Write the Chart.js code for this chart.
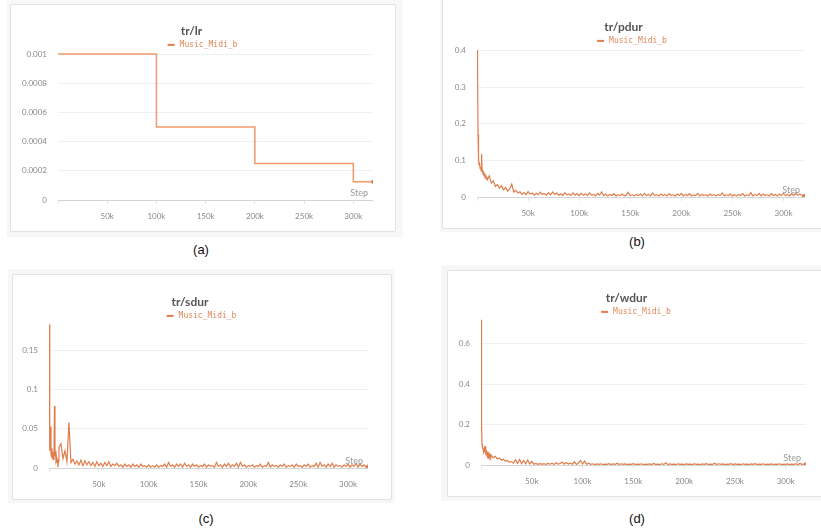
<!DOCTYPE html>
<html>
<head>
<meta charset="utf-8">
<script src="https://cdn.jsdelivr.net/npm/chart.js@4.4.1/dist/chart.umd.min.js"></script>
<style>
  html, body { margin: 0; padding: 0; background: #fff; overflow: hidden; }
  body { width: 821px; height: 531px; position: relative; }
  .bg { position: absolute; background: #f7f7f7; }
  .box { position: absolute; background: #fff; border: 1px solid #e2e2e2; border-radius: 2px; box-sizing: border-box; }
  .wrap { position: absolute; }
  .cap { position: absolute; transform: translate(-50%, -50%); font: 13px "Liberation Sans", Arial, sans-serif; color: #111; }
</style>
</head>
<body>
<div class="bg" style="left:7px;top:0;width:396px;height:237px"></div>
<div class="box" style="left:10px;top:4px;width:386px;height:228px"></div>
<div class="wrap" style="left:10px;top:4px;width:385px;height:227px"><canvas id="chartLr"></canvas></div>
<div class="cap" style="left:201px;top:249px">(a)</div>

<div class="bg" style="left:440px;top:0;width:381px;height:232px"></div>
<div class="box" style="left:442px;top:-1px;width:382px;height:230px"></div>
<div class="wrap" style="left:442px;top:0;width:380px;height:228px"><canvas id="chartPdur"></canvas></div>
<div class="cap" style="left:637px;top:241px">(b)</div>

<div class="bg" style="left:8px;top:269px;width:387px;height:234px"></div>
<div class="box" style="left:12px;top:274px;width:380px;height:226px"></div>
<div class="wrap" style="left:12px;top:274px;width:379px;height:225px"><canvas id="chartSdur"></canvas></div>
<div class="cap" style="left:206px;top:518px">(c)</div>

<div class="bg" style="left:441px;top:265px;width:380px;height:236px"></div>
<div class="box" style="left:447px;top:270px;width:379px;height:227px"></div>
<div class="wrap" style="left:447px;top:270px;width:378px;height:226px"><canvas id="chartWdur"></canvas></div>
<div class="cap" style="left:637px;top:518px">(d)</div>

<script>
// Training steps (in thousands)
const lrSteps = [0, 100, 200, 300, 320];
const lrValues = [0.001, 0.0005, 0.00025, 0.000125, 0.000125];

const noiseSteps = [0, 0.5, 1, 1.5, 2, 2.5, 3, 3.5, 4, 4.5, 5, 5.5, 6, 6.5, 7, 7.5, 8, 8.5, 9, 9.5, 10,
  12, 14, 16, 18, 20, 22, 24, 26, 28, 30, 32, 34, 36, 38, 40,
  42, 44, 46, 48, 50, 52, 54, 56, 58, 60, 62, 64, 66, 68, 70, 72, 74, 76, 78, 80,
  82, 84, 86, 88, 90, 92, 94, 96, 98, 100, 102, 104, 106, 108, 110, 112, 114, 116, 118, 120,
  122, 124, 126, 128, 130, 132, 134, 136, 138, 140, 142, 144, 146, 148, 150, 152, 154, 156, 158, 160,
  162, 164, 166, 168, 170, 172, 174, 176, 178, 180, 182, 184, 186, 188, 190, 192, 194, 196, 198, 200,
  202, 204, 206, 208, 210, 212, 214, 216, 218, 220, 222, 224, 226, 228, 230, 232, 234, 236, 238, 240,
  242, 244, 246, 248, 250, 252, 254, 256, 258, 260, 262, 264, 266, 268, 270, 272, 274, 276, 278, 280,
  282, 284, 286, 288, 290, 292, 294, 296, 298, 300, 302, 304, 306, 308, 310, 312, 314, 316, 318, 320];

const pdurValues = [0.402, 0.368, 0.172, 0.105, 0.088, 0.095, 0.078, 0.082, 0.072, 0.118, 0.069, 0.075, 0.062, 0.07, 0.058, 0.064, 0.052, 0.061, 0.05, 0.055, 0.047,
  0.058, 0.038, 0.044, 0.029, 0.034, 0.024, 0.031, 0.02, 0.026, 0.016, 0.022, 0.035, 0.013, 0.018, 0.011,
  0.014, 0.007, 0.012, 0.006, 0.015, 0.008, 0.011, 0.005, 0.01, 0.006, 0.013, 0.007, 0.009, 0.005, 0.012, 0.006, 0.014, 0.007, 0.011, 0.005,
  0.009, 0.004, 0.012, 0.006, 0.008, 0.004, 0.011, 0.005, 0.009, 0.004, 0.01, 0.005, 0.008, 0.004, 0.011, 0.005, 0.007, 0.003, 0.01, 0.005,
  0.014, 0.004, 0.008, 0.003, 0.007, 0.004, 0.009, 0.003, 0.006, 0.004, 0.008, 0.003, 0.005, 0.013, 0.004, 0.006, 0.003, 0.007, 0.004, 0.008,
  0.003, 0.01, 0.004, 0.007, 0.003, 0.011, 0.004, 0.006, 0.003, 0.008, 0.004, 0.007, 0.003, 0.009, 0.004, 0.006, 0.003, 0.008, 0.004, 0.01,
  0.003, 0.007, 0.004, 0.009, 0.003, 0.006, 0.004, 0.01, 0.003, 0.007, 0.004, 0.006, 0.003, 0.008, 0.004, 0.006, 0.003, 0.007, 0.004, 0.011,
  0.003, 0.006, 0.004, 0.008, 0.003, 0.006, 0.003, 0.007, 0.004, 0.009, 0.003, 0.006, 0.004, 0.012, 0.003, 0.007, 0.004, 0.01, 0.003, 0.008,
  0.004, 0.006, 0.003, 0.009, 0.004, 0.007, 0.003, 0.008, 0.004, 0.01, 0.004, 0.007, 0.003, 0.009, 0.004, 0.011, 0.005, 0.008, 0.004, 0.003];

const sdurValues = [0.183, 0.06, 0.022, 0.053, 0.018, 0.014, 0.025, 0.012, 0.02, 0.011, 0.016, 0.079, 0.015, 0.022, 0.01, 0.013, 0.006, 0.011, 0.001, 0.009, 0.027,
  0.031, 0.012, 0.022, 0.008, 0.058, 0.007, 0.011, 0.005, 0.009, 0.004, 0.01, 0.003, 0.009, 0.004, 0.008,
  0.003, 0.007, 0.002, 0.008, 0.003, 0.006, 0.002, 0.007, 0.003, 0.008, 0.002, 0.005, 0.003, 0.006, 0.002, 0.004, 0.001, 0.005, 0.002, 0.004,
  0.001, 0.005, 0.002, 0.004, 0.001, 0.005, 0.002, 0.003, 0.001, 0.004, 0.001, 0.003, 0.001, 0.004, 0.001, 0.003, 0.002, 0.005, 0.001, 0.007,
  0.002, 0.004, 0.001, 0.005, 0.002, 0.005, 0.001, 0.006, 0.002, 0.004, 0.001, 0.005, 0.002, 0.004, 0.001, 0.003, 0.002, 0.005, 0.001, 0.004,
  0.002, 0.003, 0.001, 0.007, 0.002, 0.004, 0.001, 0.005, 0.002, 0.006, 0.001, 0.004, 0.002, 0.006, 0.001, 0.007, 0.002, 0.004, 0.001, 0.003,
  0.002, 0.004, 0.001, 0.003, 0.002, 0.005, 0.001, 0.003, 0.002, 0.007, 0.001, 0.004, 0.002, 0.003, 0.001, 0.004, 0.002, 0.005, 0.001, 0.003,
  0.002, 0.004, 0.001, 0.005, 0.002, 0.003, 0.001, 0.004, 0.002, 0.005, 0.001, 0.003, 0.002, 0.006, 0.001, 0.007, 0.002, 0.004, 0.001, 0.005,
  0.002, 0.006, 0.001, 0.004, 0.002, 0.003, 0.001, 0.004, 0.002, 0.005, 0.001, 0.004, 0.002, 0.006, 0.001, 0.005, 0.002, 0.004, 0.001, 0.002];

const wdurValues = [0.72, 0.2, 0.105, 0.085, 0.078, 0.07, 0.08, 0.065, 0.094, 0.062, 0.07, 0.055, 0.062, 0.05, 0.058, 0.047, 0.055, 0.044, 0.05, 0.041, 0.048,
  0.036, 0.043, 0.03, 0.035, 0.024, 0.029, 0.018, 0.022, 0.013, 0.017, 0.009, 0.026, 0.008, 0.028, 0.007,
  0.022, 0.006, 0.025, 0.005, 0.018, 0.004, 0.008, 0.003, 0.007, 0.004, 0.006, 0.003, 0.008, 0.004, 0.009, 0.003, 0.011, 0.004, 0.008, 0.015,
  0.004, 0.012, 0.005, 0.009, 0.004, 0.016, 0.003, 0.01, 0.022, 0.005, 0.019, 0.004, 0.009, 0.003, 0.006, 0.002, 0.005, 0.003, 0.006, 0.002,
  0.004, 0.003, 0.007, 0.002, 0.005, 0.003, 0.009, 0.002, 0.006, 0.003, 0.005, 0.002, 0.004, 0.003, 0.007, 0.002, 0.004, 0.003, 0.006, 0.002,
  0.004, 0.003, 0.005, 0.002, 0.008, 0.003, 0.004, 0.002, 0.006, 0.003, 0.011, 0.002, 0.005, 0.003, 0.004, 0.002, 0.006, 0.003, 0.004, 0.002,
  0.005, 0.003, 0.004, 0.002, 0.006, 0.003, 0.004, 0.002, 0.005, 0.003, 0.007, 0.002, 0.004, 0.003, 0.009, 0.002, 0.006, 0.003, 0.005, 0.002,
  0.004, 0.003, 0.007, 0.002, 0.005, 0.003, 0.004, 0.002, 0.006, 0.003, 0.004, 0.002, 0.005, 0.003, 0.007, 0.002, 0.004, 0.003, 0.006, 0.002,
  0.004, 0.003, 0.005, 0.002, 0.004, 0.003, 0.006, 0.002, 0.004, 0.003, 0.005, 0.002, 0.004, 0.003, 0.006, 0.002, 0.008, 0.003, 0.005, 0.004];

// Tick labels
const xTickLabels = ['', '50k', '100k', '150k', '200k', '250k', '300k'];
const lrTickLabels = ['0', '0.0002', '0.0004', '0.0006', '0.0008', '0.001'];
const pdurTickLabels = ['0', '0.1', '0.2', '0.3', '0.4'];
const sdurTickLabels = ['0', '0.05', '0.1', '0.15'];
const wdurTickLabels = ['0', '0.2', '0.4', '0.6'];

const seriesName = 'Music_Midi_b';
const lineColor = '#e07d4c';

// "Step" label at the right end of the x axis
const stepLabel = {
  id: 'stepLabel',
  afterDraw(chart) {
    const { ctx, chartArea, scales } = chart;
    const y0 = scales.y.getPixelForValue(0);
    ctx.save();
    ctx.font = '9px Lato';
    ctx.fillStyle = '#999';
    ctx.textAlign = 'right';
    ctx.textBaseline = 'middle';
    ctx.fillText('Step', chartArea.right - 5, y0 - 7);
    ctx.restore();
  }
};

// small legend right under the title: short line + series name
const seriesLegend = {
  id: 'seriesLegend',
  afterDraw(chart) {
    const { ctx, chartArea } = chart;
    const label = chart.data.datasets[0].label;
    const y = chartArea.top - 7.5;
    ctx.save();
    ctx.font = '8px "DejaVu Sans Mono"';
    const tw = ctx.measureText(label).width;
    const x0 = chart.width / 2 - (12 + tw) / 2;
    ctx.strokeStyle = lineColor;
    ctx.lineWidth = 2;
    ctx.beginPath();
    ctx.moveTo(x0, y);
    ctx.lineTo(x0 + 7, y);
    ctx.stroke();
    ctx.fillStyle = '#e2875a';
    ctx.textBaseline = 'middle';
    ctx.fillText(label, x0 + 12, y);
    ctx.restore();
  }
};

function toPoints(steps, values) {
  return steps.map((s, i) => ({ x: s, y: values[i] }));
}

function makeChart(id, cfg) {
  const ctx = document.getElementById(id).getContext('2d');
  const n = cfg.steps.length;
  return new Chart(ctx, {
    type: 'line',
    data: {
      datasets: [{
        label: seriesName,
        data: toPoints(cfg.steps, cfg.values),
        borderColor: cfg.color || lineColor,
        backgroundColor: lineColor,
        borderWidth: cfg.lineWidth || 1.2,
        stepped: cfg.stepped || false,
        tension: 0,
        pointRadius: (c) => c.dataIndex === n - 1 ? 2 : 0,
        pointBorderWidth: 0,
        pointBackgroundColor: lineColor
      }]
    },
    options: {
      responsive: true,
      maintainAspectRatio: false,
      animation: false,
      layout: { padding: { top: 0, right: cfg.padRight, bottom: 0, left: 0 } },
      plugins: {
        title: {
          display: true,
          text: cfg.title,
          color: '#555',
          font: { family: 'Lato', size: 12, weight: 'bold' },
          padding: { top: cfg.titleTop, bottom: 14 }
        },
        legend: { display: false },
        tooltip: { enabled: false }
      },
      scales: {
        x: {
          type: 'linear',
          min: 0,
          max: cfg.xMax,
          afterFit(scale) { scale.height = cfg.xHeight; },
          border: { display: false },
          grid: { drawOnChartArea: false, drawTicks: true, tickLength: 4, color: '#e6e6e6' },
          ticks: {
            stepSize: 50,
            includeBounds: false,
            autoSkip: false,
            maxRotation: 0,
            padding: 8,
            color: '#8a8a8a',
            font: { family: 'Lato', size: 8 },
            callback: (v) => xTickLabels[Math.round(v / 50)] ?? ''
          }
        },
        y: {
          min: 0,
          max: cfg.yMax,
          afterFit(scale) { scale.width = cfg.yWidth; },
          border: { display: false },
          grid: {
            drawTicks: false,
            color: (c) => c.tick && c.tick.value === 0 ? '#d4d4d4' : '#f0f0f0'
          },
          ticks: {
            stepSize: cfg.yStep,
            includeBounds: false,
            padding: 11,
            color: '#8a8a8a',
            font: { family: 'Lato', size: 8 },
            callback: (v) => cfg.yLabels[Math.round(v / cfg.yStep)] ?? ''
          }
        }
      }
    },
    plugins: [stepLabel, seriesLegend]
  });
}

makeChart('chartLr', {
  title: 'tr/lr', steps: lrSteps, values: lrValues, stepped: true,
  color: '#ee9a6c', lineWidth: 1.5,
  xMax: 320, yMax: 0.001011, yStep: 0.0002, yLabels: lrTickLabels,
  yWidth: 48, xHeight: 31, padRight: 22, titleTop: 20
});

makeChart('chartPdur', {
  title: 'tr/pdur', steps: noiseSteps, values: pdurValues,
  xMax: 321, yMax: 0.4063, yStep: 0.1, yLabels: pdurTickLabels,
  yWidth: 35, xHeight: 31, padRight: 17, titleTop: 20
});

makeChart('chartSdur', {
  title: 'tr/sdur', steps: noiseSteps, values: sdurValues,
  xMax: 320, yMax: 0.1844, yStep: 0.05, yLabels: sdurTickLabels,
  yWidth: 37, xHeight: 31, padRight: 23, titleTop: 21
});

makeChart('chartWdur', {
  title: 'tr/wdur', steps: noiseSteps, values: wdurValues,
  xMax: 320, yMax: 0.72, yStep: 0.2, yLabels: wdurTickLabels,
  yWidth: 34, xHeight: 31, padRight: 19, titleTop: 21
});
</script>
</body>
</html>
